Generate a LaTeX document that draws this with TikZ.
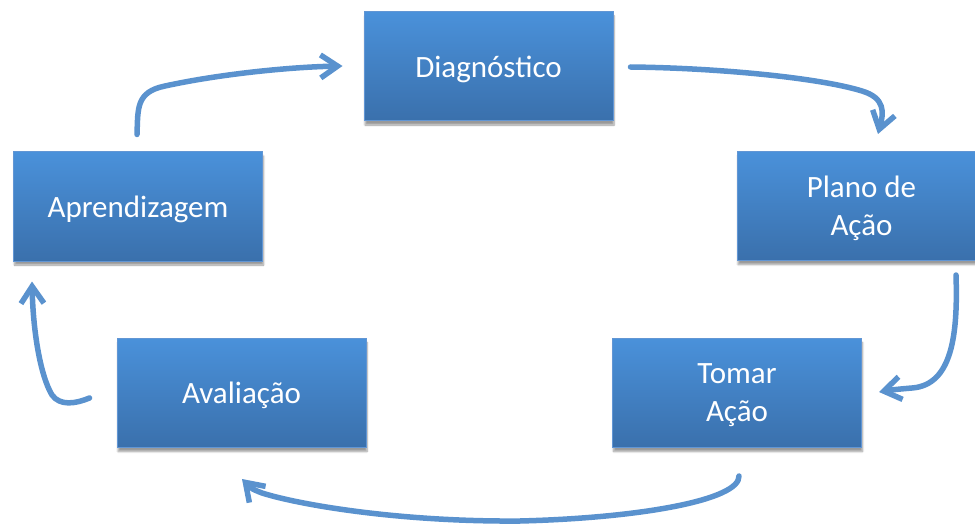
\documentclass[tikz,border=0pt]{standalone}
\usepackage{fontspec}
\setmainfont{Carlito}
\usetikzlibrary{arrows.meta,calc,shadows.blur}

\definecolor{boxtop}{RGB}{74,145,218}
\definecolor{boxbot}{RGB}{58,112,172}
\definecolor{boxline}{RGB}{98,150,212}
\definecolor{flow}{RGB}{90,146,206}

\tikzset{
  stage/.style={rectangle, minimum width=249pt, minimum height=109pt,
    top color=boxtop, bottom color=boxbot, draw=boxline, line width=1pt,
    text=white, align=center, inner sep=0pt, text depth=0pt,
    font=\fontsize{31}{38}\selectfont,
    blur shadow={shadow xshift=1pt, shadow yshift=-4pt,
      shadow blur steps=6, shadow opacity=40}},
  flowarrow/.style={draw=flow, line width=5.5pt, line cap=round,
    -{Straight Barb[length=17pt,width=23pt]}},
}

\begin{document}
\begin{tikzpicture}[x=1pt,y=-1pt]
\useasboundingbox (0,0) rectangle (975,524);
\clip (0,0) rectangle (975,524);

% the five stages of the cycle
\node[stage] (diag)  at (488.5,66.5) {Diagnóstico};
\node[stage] (plano) at (861.5,206)  {Plano de\\Ação};
\node[stage] (tomar) at (737,393)    {Tomar\\Ação};
\node[stage] (aval)  at (241.5,393)  {Avaliação};
\node[stage] (apr)   at (138,206.5)  {Aprendizagem};

% free ends of the curved arrows, placed next to the stages
\coordinate (s1) at ($(apr.north)+(-1,-17)$);
\coordinate (e1) at ($(diag.west)+(-21,-0.5)$);
\coordinate (s2) at ($(diag.east)+(17,0.5)$);
\coordinate (e2) at ($(plano.north)+(16.5,-17)$);
\coordinate (s3) at ($(plano.south)+(94.5,14)$);
\coordinate (e3) at ($(tomar.east)+(17,-1)$);
\coordinate (s4) at ($(tomar.south)+(2,28)$);
\coordinate (e4) at ($(aval.south)+(0.5,31)$);
\coordinate (s5) at ($(aval.west)+(-27,5)$);
\coordinate (e5) at ($(apr.south)+(-106,20)$);

% the cycle
\draw[flowarrow] (s1) .. controls (138,108) and (136,92) .. (165,86)
  .. controls (220,74) and (290,67) .. (e1);
\draw[flowarrow] (s2) .. controls (720,68) and (820,78) .. (862,91)
  .. controls (885,98) and (884,112) .. (e2);
\draw[flowarrow] (s3) .. controls (958,335) and (952,385) .. (912,388)
  .. controls (900,389) and (890,390) .. (e3);
\draw[flowarrow] (s4) .. controls (740,500) and (640,518) .. (520,521)
  .. controls (400,522) and (300,505) .. (262,493)
  .. controls (252,489) .. (e4);
\draw[flowarrow] (s5) .. controls (75,404) and (60,406) .. (52,395)
  .. controls (40,375) and (33,330) .. (e5);
\end{tikzpicture}
\end{document}
